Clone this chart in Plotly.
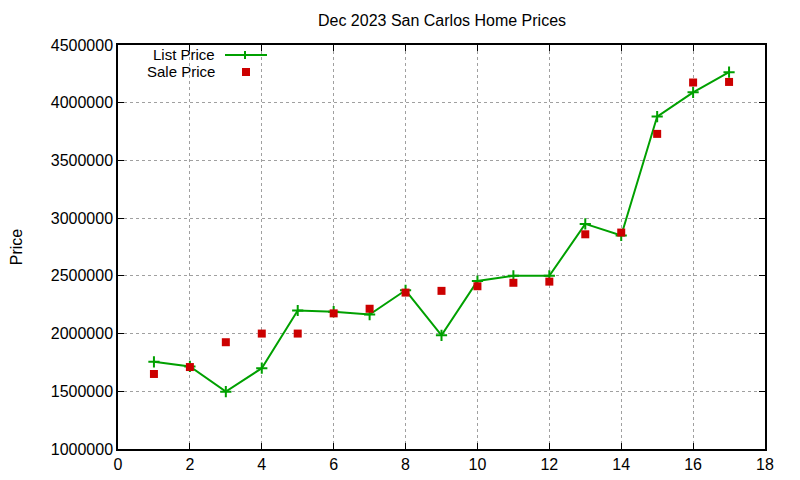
import plotly.graph_objects as go

# home number on the x axis, prices
homes = list(range(1, 18))
list_price = [1755000, 1715000, 1497000, 1700000, 2200000, 2190000, 2165000, 2375000,
              1985000, 2455000, 2500000, 2500000, 2950000, 2850000, 3880000, 4090000, 4265000]
sale_price = [1650000, 1710000, 1925000, 2000000, 2000000, 2175000, 2215000, 2355000,
              2370000, 2410000, 2440000, 2450000, 2860000, 2875000, 3730000, 4175000, 4180000]

series_names = ["List Price", "Sale Price"]
chart_title = "Dec 2023 San Carlos Home Prices"

GREEN = "#00a000"
RED = "#cc0000"
FONT = "Liberation Sans, Arial, sans-serif"

# the page body has an 8px margin, so the figure is drawn 8px in from the corner
OFF = 8
W, H = 800 - OFF, 480 - OFF
# wanted plot area on screen: x 118..765, y 45..449
L, T = 118 - OFF, 45 - OFF
R, B = W - (765 - OFF), H - (449 - OFF)
pw, ph = W - L - R, H - T - B


def px(x):
    # screen pixel -> paper x
    return (x - OFF - L) / pw


def py(y):
    # screen pixel -> paper y
    return (H - B - (y - OFF)) / ph


fig = go.Figure()
fig.add_trace(go.Scatter(x=homes, y=list_price, name=series_names[0], mode="lines+markers",
                         line=dict(color=GREEN, width=2),
                         marker=dict(symbol="cross-thin", size=8,
                                     line=dict(color=GREEN, width=2))))
fig.add_trace(go.Scatter(x=homes, y=sale_price, name=series_names[1], mode="markers",
                         marker=dict(symbol="square", size=8, color=RED)))

# gnuplot style key: text on the left, sample on the right
shapes = [
    dict(type="line", xref="paper", yref="paper", x0=px(225), x1=px(267), y0=py(55), y1=py(55),
         line=dict(color=GREEN, width=2)),
    dict(type="line", xref="paper", yref="paper", x0=px(241), x1=px(249), y0=py(55), y1=py(55),
         line=dict(color=GREEN, width=2)),
    dict(type="line", xref="paper", yref="paper", x0=px(245), x1=px(245), y0=py(51), y1=py(59),
         line=dict(color=GREEN, width=2)),
    dict(type="rect", xref="paper", yref="paper", x0=px(242), x1=px(250), y0=py(68), y1=py(76),
         fillcolor=RED, line=dict(width=0)),
]
annotations = [
    dict(text=series_names[0], xref="paper", yref="paper", x=px(217), y=py(54),
         xanchor="right", yanchor="middle", showarrow=False, font=dict(size=15, color="black")),
    dict(text=series_names[1], xref="paper", yref="paper", x=px(217), y=py(72),
         xanchor="right", yanchor="middle", showarrow=False, font=dict(size=15, color="black")),
]

axis_common = dict(showline=True, linecolor="black", linewidth=1.5, mirror="ticks",
                   ticks="inside", ticklen=6, tickcolor="black", tickwidth=1,
                   showgrid=True, gridcolor="#a0a0a0", griddash="dot", gridwidth=1,
                   zeroline=False, automargin=False, tickfont=dict(size=16, color="black"))

fig.update_layout(
    width=W, height=H,
    margin=dict(l=L, r=R, t=T, b=B),
    paper_bgcolor="white", plot_bgcolor="white",
    font=dict(family=FONT, size=16, color="black"),
    title=dict(text=chart_title, x=(442 - OFF) / W, xanchor="center", y=1 - (20 - OFF) / H,
               yanchor="middle", font=dict(size=16)),
    showlegend=False,
    shapes=shapes,
    annotations=annotations,
)
fig.update_xaxes(range=[0, 18], dtick=2, tick0=0, **axis_common)
fig.update_yaxes(range=[1000000, 4500000], dtick=500000, tick0=1000000, tickformat="d",
                 title=dict(text="Price", standoff=30, font=dict(size=16)), **axis_common)

fig.write_html("out.html")
